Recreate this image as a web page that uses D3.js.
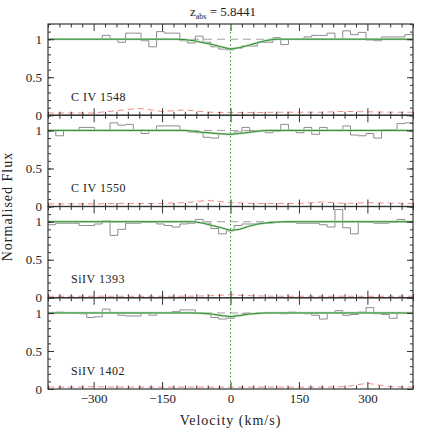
<!DOCTYPE html>
<html>
<head>
<meta charset="utf-8">
<script src="https://cdn.jsdelivr.net/npm/d3@7"></script>
<style>
  body { margin: 0; background: #fff; }
  text { font-family: "Liberation Serif", "DejaVu Serif", serif; fill: #222; }
</style>
</head>
<body>
<svg id="chart" width="436" height="436"></svg>
<script>
// ---- data ----
var ions = ["C IV 1548", "C IV 1550", "SiIV 1393", "SiIV 1402"];

// left edges of the spectrum pixels (km/s), 17 km/s wide
var pixVel = [-400,-383,-366,-349,-332,-315,-298,-281,-264,-247,-230,-213,-196,-179,-162,-145,-128,-111,-94,-77,-60,-43,-26,-9,8,25,42,59,76,93,110,127,144,161,178,195,212,229,246,263,280,297,314,331,348,365,382];

var fluxC1548 = [1.0,1.0,1.0,1.0,1.0,1.0,1.0,1.05,1.0,0.96,1.08,1.08,0.98,0.9,1.1,1.08,1.08,0.98,0.95,1.04,0.96,0.9,0.87,0.86,0.88,0.91,0.91,0.96,0.96,1.02,0.93,1.0,1.0,1.03,1.05,1.05,1.08,1.0,1.11,1.06,1.09,0.99,0.98,1.03,1.03,1.03,1.06];
var fluxC1550 = [1.0,0.93,1.0,1.0,1.04,1.04,1.0,1.0,1.1,1.07,1.08,1.0,0.96,1.0,1.06,1.06,1.06,1.0,0.98,0.97,0.91,0.9,0.95,0.95,0.98,1.04,1.0,1.0,0.97,0.99,1.08,1.0,0.97,1.04,0.95,1.04,1.0,1.0,1.06,0.94,0.93,0.96,0.9,1.01,1.01,1.09,1.1];
var fluxSi1393 = [0.96,0.98,0.98,0.98,0.95,0.95,0.97,1.01,0.82,0.9,0.98,0.98,0.99,0.99,0.97,0.95,0.93,0.97,0.98,1.03,0.98,0.91,0.84,0.88,0.95,0.97,0.97,0.98,0.98,0.99,0.99,0.99,0.98,0.98,0.98,0.96,0.93,1.16,0.92,0.84,1.0,0.99,0.98,0.98,0.99,1.03,1.0];
var fluxSi1402 = [0.99,1.01,1.0,1.0,0.99,0.94,0.95,1.05,1.0,0.97,0.96,0.96,1.0,0.97,1.0,1.0,1.02,1.04,1.04,1.0,0.99,0.94,0.92,0.93,0.97,0.99,0.99,1.0,1.0,1.0,0.99,1.01,1.0,0.99,0.97,0.92,1.0,1.03,0.97,0.98,1.01,1.07,0.99,0.98,0.93,1.0,1.0];

// fitted model
var modelVel = [-400,-120,-100,-80,-60,-40,-20,0,20,40,60,80,100,120,400];
var modelC1548 = [1,1,0.995,0.98,0.955,0.93,0.9,0.87,0.89,0.92,0.955,0.985,1,1,1];
var modelC1550 = [1,1,1,0.99,0.975,0.965,0.955,0.948,0.96,0.975,0.99,1,1,1,1];
var modelSi1393 = [1,1,1,1,0.98,0.95,0.92,0.885,0.9,0.94,0.97,0.985,0.995,1,1];
var modelSi1402 = [1,1,1,1,0.995,0.985,0.965,0.952,0.965,0.985,0.995,1,1,1,1];

// error spectrum
var errVel = [-400,-350,-300,-250,-200,-150,-100,-50,0,50,100,150,200,250,300,350,400];
var errC1548 = [0.03,0.03,0.03,0.06,0.09,0.05,0.07,0.04,0.035,0.035,0.04,0.04,0.04,0.05,0.045,0.04,0.04];
var errC1550 = [0.035,0.035,0.035,0.04,0.04,0.04,0.05,0.08,0.05,0.04,0.04,0.04,0.06,0.04,0.05,0.045,0.04];
var errSi1393 = [0.02,0.02,0.02,0.02,0.02,0.02,0.02,0.025,0.04,0.025,0.02,0.02,0.02,0.02,0.02,0.02,0.02];
var errSi1402 = [0.025,0.025,0.03,0.025,0.025,0.025,0.025,0.025,0.025,0.025,0.025,0.025,0.025,0.03,0.075,0.03,0.025];

var xMajor = [-300, -150, 0, 150, 300];
var yMajor = [0, 0.5, 1];
var zabs = "5.8441";

var fluxes = [fluxC1548, fluxC1550, fluxSi1393, fluxSi1402];
var models = [modelC1548, modelC1550, modelSi1393, modelSi1402];
var errs = [errC1548, errC1550, errSi1393, errSi1402];

// ---- layout ----
var svg = d3.select("#chart"),
    left = 48, right = 413, top0 = 24, bottom = 389,
    ph = (bottom - top0) / ions.length;

var x = d3.scaleLinear().domain([-400, 400]).range([left, right]);
var xMinor = d3.range(-400, 401, 25).filter(function(v) { return xMajor.indexOf(v) < 0; });
var yMinor = d3.range(0, 1.21, 0.1);

ions.forEach(function(name, i) {
  var pt = top0 + i * ph;
  var y = d3.scaleLinear().domain([0, 1.2]).range([pt + ph, pt]);
  var g = svg.append("g");

  // error spectrum
  g.append("path")
      .datum(errs[i])
      .attr("fill", "none")
      .attr("stroke", "#f48a8a")
      .attr("stroke-width", 1)
      .attr("stroke-dasharray", "6,4")
      .attr("d", d3.line()
        .x(function(d, j) { return x(errVel[j]); })
        .y(function(d) { return y(d); }));

  // continuum
  g.append("line")
      .attr("x1", left).attr("x2", right)
      .attr("y1", y(1)).attr("y2", y(1))
      .attr("stroke", "#a0a0a0")
      .attr("stroke-dasharray", "8,5");

  // spectrum as a histogram
  var pts = fluxes[i].map(function(d, j) { return [pixVel[j], d]; });
  pts.push([400, fluxes[i][fluxes[i].length - 1]]);
  g.append("path")
      .datum(pts)
      .attr("fill", "none")
      .attr("stroke", "#808080")
      .attr("stroke-width", 0.9)
      .attr("d", d3.line().curve(d3.curveStepAfter)
        .x(function(d) { return x(d[0]); })
        .y(function(d) { return y(d[1]); }));

  // model
  var modelLine = d3.line()
      .x(function(d, j) { return x(modelVel[j]); })
      .y(function(d) { return y(d); });
  g.append("path").datum(models[i])
      .attr("fill", "none").attr("stroke", "#afdcaf").attr("stroke-width", 2.2)
      .attr("d", modelLine);
  g.append("path").datum(models[i])
      .attr("fill", "none").attr("stroke", "#2a7d2a").attr("stroke-width", 0.9)
      .attr("d", modelLine);

  // axes (ticks pointing inward)
  var axes = [
    d3.axisBottom(x).tickValues(xMajor).tickSize(-7).tickPadding(5)
      .tickFormat(i === ions.length - 1 ? d3.format("") : ""),
    d3.axisBottom(x).tickValues(xMinor).tickSize(-3.5).tickFormat("")
  ];
  axes.forEach(function(a) {
    g.append("g").attr("class", "axis")
      .attr("transform", "translate(0," + (pt + ph) + ")")
      .call(a.tickSizeOuter(0));
  });
  [d3.axisTop(x).tickValues(xMajor).tickSize(-7).tickFormat(""),
   d3.axisTop(x).tickValues(xMinor).tickSize(-3.5).tickFormat("")].forEach(function(a) {
    g.append("g").attr("class", "axis")
      .attr("transform", "translate(0," + pt + ")")
      .call(a.tickSizeOuter(0));
  });
  g.append("g").attr("class", "axis")
      .attr("transform", "translate(" + left + ",0)")
      .call(d3.axisLeft(y).tickValues(yMajor).tickSize(-6).tickPadding(6)
        .tickFormat(d3.format("")).tickSizeOuter(0));
  g.append("g").attr("class", "axis")
      .attr("transform", "translate(" + left + ",0)")
      .call(d3.axisLeft(y).tickValues(yMinor).tickSize(-3).tickFormat("").tickSizeOuter(0));
  g.append("g").attr("class", "axis")
      .attr("transform", "translate(" + right + ",0)")
      .call(d3.axisRight(y).tickValues(yMajor).tickSize(-6).tickFormat("").tickSizeOuter(0));
  g.append("g").attr("class", "axis")
      .attr("transform", "translate(" + right + ",0)")
      .call(d3.axisRight(y).tickValues(yMinor).tickSize(-3).tickFormat("").tickSizeOuter(0));

  // frame
  g.append("rect")
      .attr("x", left).attr("y", pt)
      .attr("width", right - left).attr("height", ph)
      .attr("fill", "none").attr("stroke", "#333").attr("stroke-width", 1.2);

  g.append("text")
      .attr("x", 71).attr("y", y(0.19))
      .attr("font-size", 12)
      .attr("letter-spacing", "0.5px")
      .attr("fill", "#333")
      .text(name);
});

svg.selectAll(".axis .domain").remove();
svg.selectAll(".axis line").attr("stroke", "#333");
svg.selectAll(".axis text").attr("font-size", 13)
    .attr("font-family", "Liberation Serif, serif").attr("fill", "#222");

// line of the absorber redshift
svg.append("line")
    .attr("x1", x(0)).attr("x2", x(0))
    .attr("y1", top0).attr("y2", bottom)
    .attr("stroke", "#2e9a2e").attr("stroke-width", 1.1)
    .attr("stroke-dasharray", "1.5,2.5");

// titles
var t = svg.append("text").attr("x", 190).attr("y", 16).attr("font-size", 13);
t.append("tspan").text("z");
t.append("tspan").attr("font-size", 8).attr("dy", 3).text("abs");
t.append("tspan").attr("dy", -3).text(" = " + zabs);

svg.append("text")
    .attr("x", (left + right) / 2).attr("y", 425)
    .attr("text-anchor", "middle").attr("font-size", 14)
    .attr("letter-spacing", "1px")
    .text("Velocity (km/s)");

svg.append("text")
    .attr("transform", "translate(12," + ((top0 + bottom) / 2) + ") rotate(-90)")
    .attr("text-anchor", "middle").attr("font-size", 14)
    .attr("letter-spacing", "1px")
    .text("Normalised Flux");
</script>
</body>
</html>
